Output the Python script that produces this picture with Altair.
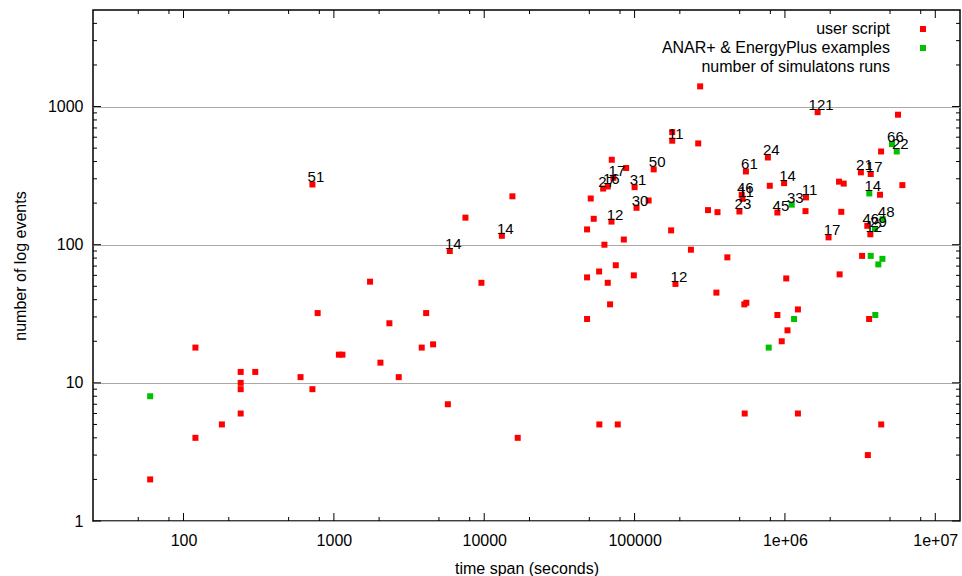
import altair as alt
import pandas as pd

# ---- data: "user script" series (time span in seconds, number of log events)
user_x = [60, 120, 120, 180, 240, 240, 240, 240, 300, 600, 720, 720, 780, 1080, 1140,
          1740, 2040, 2340, 2700, 3840, 4110, 4570, 5730, 5900, 7500, 9580, 13100, 15400, 16700,
          48300, 51100, 53500, 48300, 58100, 63000, 66300, 75000, 61800, 66300, 72300, 70500,
          87900, 70200, 100000, 103000, 124000, 134000, 84800, 98800, 68700, 48300, 58300, 77300,
          178000, 178000, 265000, 273000, 175000, 187000, 237000, 308000, 356000, 414000, 350000,
          550000, 516000, 522000, 498000, 537000, 554000, 540000, 891000, 1220000, 1040000, 952000,
          1020000, 1220000,
          770000, 793000, 987000, 891000, 1370000, 1380000, 1650000, 1950000, 2290000, 2460000,
          2370000, 2310000, 3260000, 3630000, 3560000, 4370000,
          3200000, 3720000, 4290000, 3530000, 3700000, 4360000, 5650000, 6040000]
user_y = [2, 18, 4, 5, 12, 10, 9, 6, 12, 11, 9, 273, 32, 16, 16,
          54, 14, 27, 11, 18, 32, 19, 7, 90, 157, 53, 116, 224, 4,
          129, 216, 154, 58, 64, 100, 53, 71, 255, 264, 305, 412,
          359, 147, 261, 185, 209, 351, 109, 60, 37, 29, 5, 5,
          653, 566, 541, 1400, 127, 52, 92, 178, 172, 81, 45,
          339, 230, 215, 174, 37, 38, 6, 31, 34, 24, 20,
          57, 6,
          428, 267, 279, 171, 175, 220, 911, 113, 286, 277,
          173, 61, 83, 29, 3, 5,
          334, 325, 230, 137, 119, 473, 873, 270]

# ---- data: "ANAR+ & EnergyPlus examples" series
ex_x = [60, 780000, 1150000, 1110000, 3720000, 4180000, 4450000, 3990000, 3640000,
        3970000, 4470000, 5150000, 5540000]
ex_y = [8, 18, 29, 195, 83, 72, 79, 31, 235, 130, 153, 535, 473]

# ---- data: "number of simulatons runs" labels
lab_x = [720, 5900, 13100, 61800, 66300, 72300, 70200, 100000, 103000, 134000, 178000,
         187000, 550000, 516000, 522000, 498000, 770000, 987000, 1650000, 1380000, 1110000,
         891000, 1950000, 3200000, 3720000, 3640000, 4470000, 3530000, 3970000, 3700000,
         5150000, 5540000]
lab_y = [273, 90, 116, 255, 264, 305, 147, 261, 185, 351, 566,
         52, 339, 230, 215, 174, 428, 279, 911, 220, 195,
         171, 113, 334, 325, 235, 153, 137, 130, 119,
         535, 473]
lab_text = ["51", "14", "14", "27", "16", "17", "12", "31", "30", "50", "11",
            "12", "61", "46", "11", "23", "24", "14", "121", "11", "33",
            "45", "17", "21", "17", "14", "48", "46", "29", "12",
            "66", "22"]

series_names = ["user script", "ANAR+ & EnergyPlus examples", "number of simulatons runs"]
series_keys = ["0", "1", "2"]
series_colors = ["#ff0000", "#00c000", "transparent"]

# ---- axis ticks
x_major = [100, 1000, 10000, 100000, 1000000, 10000000]
x_labels = ["100", "1000", "10000", "100000", "1e+06", "1e+07"]
x_minor = [50, 80, 200, 500, 800, 2000, 5000, 8000, 20000, 50000, 80000,
           200000, 500000, 800000, 2000000, 5000000, 8000000]
y_major = [1, 10, 100, 1000]
y_labels = ["1", "10", "100", "1000"]
y_minor = [2, 3, 4, 5, 6, 7, 8, 9, 20, 30, 40, 50, 60, 70, 80, 90,
           200, 300, 400, 500, 600, 700, 800, 900, 2000, 3000, 4000]

W, H = 867, 511
FONT = "Liberation Sans"

pts = pd.DataFrame({
    "x": user_x + ex_x,
    "y": user_y + ex_y,
    "series": [series_names[0]] * len(user_x) + [series_names[1]] * len(ex_x),
    "key": [series_keys[0]] * len(user_x) + [series_keys[1]] * len(ex_x),
})
labs = pd.DataFrame({"x": lab_x, "y": lab_y, "label": lab_text})

x_scale = alt.Scale(type="log", domain=[25, 14600000], nice=False)
y_scale = alt.Scale(type="log", domain=[1, 5000], nice=False)


def expr(vals, labels, field="datum.value", quote=False):
    q = "'" if quote else ""
    return " : ".join(f"{field} == {q}{v}{q} ? '{l}'" for v, l in zip(vals, labels)) + " : ''"


AX = alt.Axis(
    values=x_major, labelExpr=expr(x_major, x_labels), title="time span (seconds)",
    grid=False, ticks=False, tickSize=0, domain=False, labelPadding=11,
    labelFontSize=16, titleFontSize=16, titleFontWeight="normal", titleY=47,
    titleBaseline="middle", labelFlush=False, labelOverlap=False, labelColor="black",
    titleColor="black", labelFont=FONT, titleFont=FONT)
AY = alt.Axis(
    values=y_major, labelExpr=expr(y_major, y_labels), title="number of log events",
    grid=True, gridColor="#aaaaaa", gridWidth=1, ticks=False, tickSize=0, domain=False,
    labelPadding=10, labelFontSize=16, titleFontSize=16, titleFontWeight="normal",
    titleX=-73, titleY=H / 2, titleAngle=270, titleBaseline="middle",
    labelFlush=False, labelOverlap=False, labelColor="black", titleColor="black",
    labelFont=FONT, titleFont=FONT)

points = alt.Chart(pts).mark_point(size=36, opacity=1, filled=True, strokeWidth=0).encode(
    x=alt.X("x:Q", scale=x_scale, axis=AX),
    y=alt.Y("y:Q", scale=y_scale, axis=AY),
    # legend symbols (right column)
    color=alt.Color("series:N", scale=alt.Scale(domain=series_names, range=series_colors),
                    legend=alt.Legend(title=None, orient="none", legendX=787, legendY=11,
                                      direction="vertical", symbolType="square", symbolSize=36,
                                      symbolStrokeWidth=0, labelOffset=0, symbolOffset=35,
                                      labelExpr="' '",
                                      labelFontSize=16, labelLimit=500, rowPadding=3, padding=0,
                                      labelFont=FONT)),
    # legend texts (right aligned, left of symbols)
    shape=alt.Shape("key:N",
                    scale=alt.Scale(domain=series_keys, range=["square", "square", "square"]),
                    legend=alt.Legend(title=None, orient="none", legendX=746, legendY=11,
                                      direction="vertical", symbolType="square", symbolSize=36,
                                      symbolStrokeWidth=0, symbolOpacity=0, labelAlign="right",
                                      labelOffset=0, symbolOffset=35,
                                      labelExpr=expr(series_keys, series_names, "datum.label", True),
                                      labelFontSize=16, labelLimit=500, rowPadding=3, padding=0,
                                      labelColor="black", labelFont=FONT)),
)

texts = alt.Chart(labs).mark_text(dx=3.5, dy=-7, fontSize=15, font=FONT, color="black",
                                  align="center", baseline="middle").encode(
    x=alt.X("x:Q", scale=x_scale, axis=AX),
    y=alt.Y("y:Q", scale=y_scale, axis=AY),
    text="label:N",
)


def xticks(vals, length):
    d = pd.DataFrame({"x": vals})
    bottom = alt.Chart(d).mark_rule(color="black", strokeWidth=1).encode(
        x=alt.X("x:Q", scale=x_scale, axis=AX), y=alt.value(H), y2=alt.value(H - length))
    top = alt.Chart(d).mark_rule(color="black", strokeWidth=1).encode(
        x=alt.X("x:Q", scale=x_scale, axis=AX), y=alt.value(0), y2=alt.value(length))
    return [bottom, top]


def yticks(vals, length):
    d = pd.DataFrame({"y": vals})
    left = alt.Chart(d).mark_rule(color="black", strokeWidth=1).encode(
        y=alt.Y("y:Q", scale=y_scale, axis=AY), x=alt.value(0), x2=alt.value(length))
    right = alt.Chart(d).mark_rule(color="black", strokeWidth=1).encode(
        y=alt.Y("y:Q", scale=y_scale, axis=AY), x=alt.value(W), x2=alt.value(W - length))
    return [left, right]


layers = [points] + xticks(x_major, 8) + xticks(x_minor, 4) + yticks(y_major, 8) + \
    yticks(y_minor, 4) + [texts]

chart = alt.layer(*layers).properties(
    width=W, height=H,
    autosize=alt.AutoSizeParams(type="none"),
    padding={"left": 93, "top": 10, "right": 2, "bottom": 55},
    background="white",
).configure_view(
    stroke="black", strokeWidth=1.5
).configure_legend(
    labelFont=FONT
).configure_text(
    font=FONT
)

chart.save("out.html", embed_options={"renderer": "svg", "actions": False})
